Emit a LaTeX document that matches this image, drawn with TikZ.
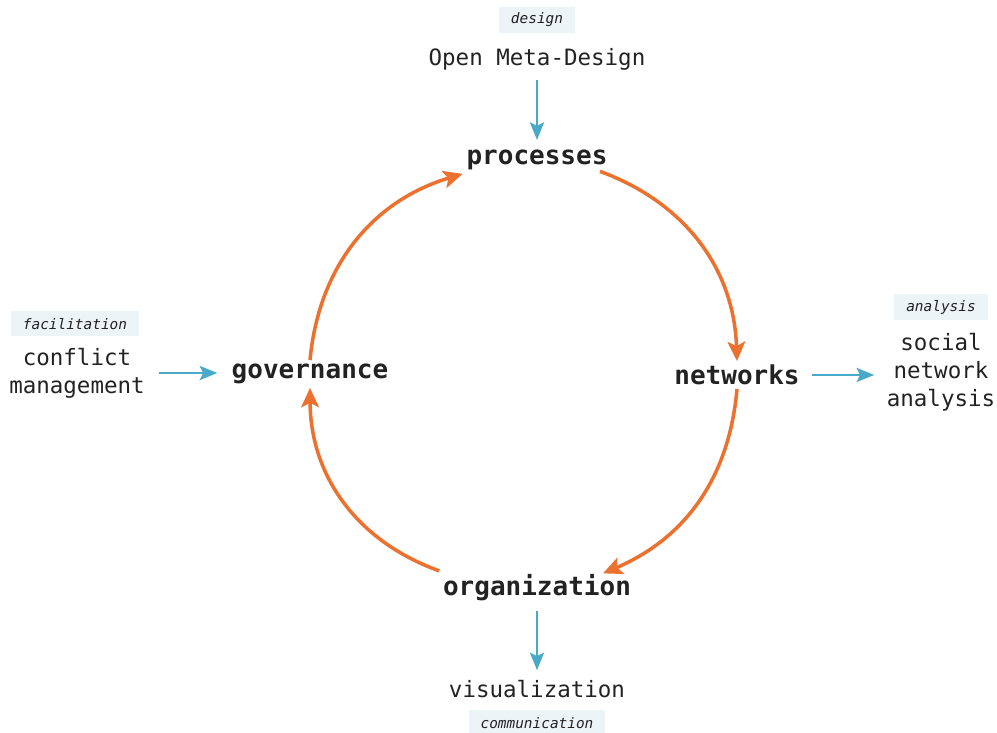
\documentclass[tikz,border=0pt]{standalone}
\usepackage{fontspec}
\setmonofont{DejaVu Sans Mono}
\usetikzlibrary{shapes,arrows.meta,positioning,calc}

\definecolor{cycleorange}{RGB}{236,112,46}
\definecolor{feedblue}{RGB}{72,170,200}
\definecolor{tagfill}{RGB}{236,244,247}
\definecolor{inktext}{RGB}{34,34,34}

\tikzset{
    stage/.style={inner sep=2pt, text=inktext, font=\fontsize{14.8}{17}\selectfont\ttfamily\bfseries},
    method/.style={inner sep=2pt, text=inktext, align=center, font=\fontsize{12.8}{15.9}\selectfont\ttfamily},
    tag/.style={fill=tagfill, text=inktext, inner xsep=0.24cm, minimum height=0.5cm, font=\fontsize{8.2}{10}\selectfont\ttfamily\itshape},
    cycle/.style={draw=cycleorange, line width=2pt, -{Stealth[length=11pt,width=10pt,inset=2.5pt]}},
    feed/.style={draw=feedblue, line width=1.5pt, shorten <=3.5pt, shorten >=3.5pt, -{Stealth[length=10pt,width=8pt,inset=2pt]}}
}

\begin{document}
\begin{tikzpicture}
        \useasboundingbox (0,0) rectangle (19.94,14.66);

        % the four stages of the cycle
        \node[stage] (proc) at (10.74,11.46) {processes};
        \node[stage] (netw) at (14.74,7.16) {networks};
        \node[stage] (orga) at (10.74,2.90) {organization};
        \node[stage] (gov) at (6.20,7.18) {governance};

        % methods feeding in and out
        \node[method] (omd) at (10.74,13.48) {Open Meta-Design};
        \node[tag] (design) at (10.74,14.26) {design};
        \node[method] (confl) at (1.54,7.20) {conflict\\management};
        \node[tag] (facil) at (1.50,8.18) {facilitation};
        \node[method] (sna) at (18.82,7.22) {social\\network\\analysis};
        \node[tag] (anal) at (18.82,8.52) {analysis};
        \node[method] (visu) at (10.74,0.88) {visualization};
        \node[tag] (comm) at (10.74,0.20) {communication};

        \draw[cycle] ($(proc.south)+(1.26,0.05)$) to[bend left=34] (netw.north);
        \draw[cycle] (netw.south) to[bend left=31] ($(orga.north)+(1.32,-0.05)$);
        \draw[cycle] (orga.north west) to[bend left=35] (gov.south);
        \draw[cycle] (gov.north) to[bend left=34] (proc.south west);

        \draw[feed] (omd.south) -- (proc.north);
        \draw[feed, shorten <=6pt, shorten >=6pt] (confl.east) -- (confl.east -| gov.west);
        \draw[feed, shorten <=5pt, shorten >=5pt] (netw.east) -- (sna.west |- netw.east);
        \draw[feed] (orga.south) -- (visu.north);
    \end{tikzpicture}
\end{document}
